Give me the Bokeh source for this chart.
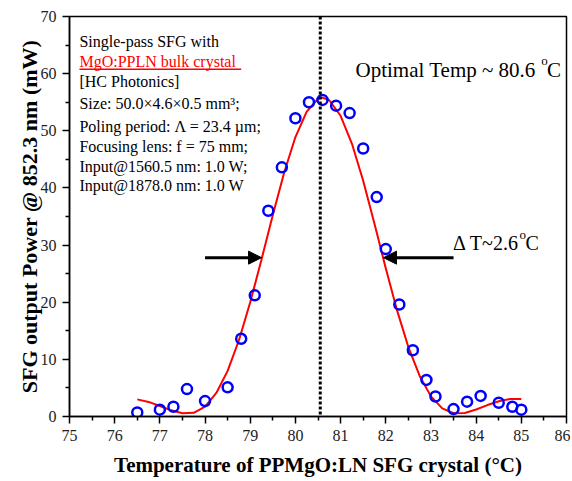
from bokeh.plotting import figure
from bokeh.models import Span, Label, Arrow, NormalHead, FixedTicker
from bokeh.embed import file_html
from bokeh.resources import INLINE

# ---- data ----
meas_T = [76.5, 77.0, 77.3, 77.6, 78.0, 78.5, 78.8, 79.1, 79.4, 79.7, 80.0, 80.3, 80.6, 80.9,
          81.2, 81.5, 81.8, 82.0, 82.3, 82.6, 82.9, 83.1, 83.5, 83.8, 84.1, 84.5, 84.8, 85.0]
meas_P = [0.7, 1.2, 1.7, 4.8, 2.7, 5.1, 13.6, 21.2, 36.0, 43.6, 52.2, 55.0, 55.4, 54.4,
          53.1, 46.9, 38.4, 29.3, 19.6, 11.6, 6.4, 3.5, 1.3, 2.6, 3.6, 2.4, 1.7, 1.2]

fit_T = [76.5, 76.75, 77.0, 77.25, 77.5, 77.75, 78.0, 78.25, 78.5, 78.75, 79.0, 79.25, 79.5,
         79.75, 80.0, 80.25, 80.5, 80.6, 80.75, 81.0, 81.25, 81.5, 81.75, 82.0, 82.25, 82.5,
         82.75, 83.0, 83.25, 83.5, 83.75, 84.0, 84.25, 84.5, 84.75, 85.0]
fit_P = [3.00, 2.55, 1.84, 1.08, 0.56, 0.65, 1.73, 4.12, 7.98, 13.34, 19.98, 27.49, 35.28,
         42.65, 48.90, 53.36, 55.60, 55.80, 55.35, 52.63, 47.77, 41.25, 33.73, 25.94, 18.57,
         12.16, 7.09, 3.52, 1.42, 0.57, 0.62, 1.22, 2.00, 2.67, 3.05, 3.08]

optimal_T = 80.55
fwhm_T = [79.25, 81.95]
half_max = 27.8
arrow_tail_T = [78.0, 83.5]

x_ticks = list(range(75, 87))
y_ticks = list(range(0, 71, 10))

info_lines = ["Single-pass SFG with", "MgO:PPLN bulk crystal", "[HC Photonics]",
              "Size: 50.0\u00d74.6\u00d70.5 mm\u00b3;", "Poling period: \u039b = 23.4 \u00b5m;",
              "Focusing lens: f = 75 mm;", "Input@1560.5 nm: 1.0 W;", "Input@1878.0 nm: 1.0 W"]

FONT = "Liberation Serif"

p = figure(width=570, height=479, x_range=(75, 86), y_range=(0, 70),
           output_backend="svg", toolbar_location=None,
           min_border_left=69, min_border_right=4, min_border_top=16, min_border_bottom=62)
p.xgrid.visible = False
p.ygrid.visible = False
p.outline_line_color = "black"
p.outline_line_width = 1.5
p.background_fill_color = "white"
p.border_fill_color = "white"

for ax in (p.xaxis[0], p.yaxis[0]):
    ax.axis_line_width = 1.5
    ax.major_tick_line_width = 1.5
    ax.minor_tick_line_width = 1.5
    ax.major_tick_out = 7
    ax.major_tick_in = 0
    ax.minor_tick_out = 4
    ax.minor_tick_in = 0
    ax.major_label_text_font = FONT
    ax.major_label_text_font_size = "16px"
    ax.major_label_text_color = "#222222"
    ax.axis_label_text_font = FONT
    ax.axis_label_text_font_style = "bold"
    ax.axis_label_text_color = "black"

p.xaxis.axis_label_text_font_size = "21px"
p.yaxis.axis_label_text_font_size = "22px"
p.xaxis.ticker = FixedTicker(ticks=x_ticks, minor_ticks=[t + 0.5 for t in x_ticks[:-1]])
p.yaxis.ticker = FixedTicker(ticks=y_ticks, minor_ticks=[t + 5 for t in y_ticks[:-1]])
p.xaxis.axis_label = "Temperature of PPMgO:LN SFG crystal (\u00b0C)"
p.yaxis.axis_label = "SFG output Power @ 852.3 nm (mW)"
p.xaxis.axis_label_standoff = 9
p.yaxis.axis_label_standoff = -4
p.xaxis.major_label_standoff = 6
p.yaxis.major_label_standoff = 6

# dotted optimal temperature line
p.add_layout(Span(location=optimal_T, dimension="height", line_color="black",
                  line_width=3, line_dash="3 2"))

# fit curve
p.line(fit_T, fit_P, line_color="red", line_width=2)

# measured points
p.scatter(meas_T, meas_P, marker="circle", size=10, fill_color=None,
          line_color="blue", line_width=2.5)

# FWHM arrows
for tail, tip in zip(arrow_tail_T, fwhm_T):
    p.add_layout(Arrow(end=NormalHead(size=13, fill_color="black", line_color="black"),
                       x_start=tail, y_start=half_max, x_end=tip, y_end=half_max,
                       line_width=3, line_color="black"))

# info text block
info_y = [65.62, 62.13, 58.66, 54.80, 50.79, 47.29, 43.80, 40.49]
for i, (txt, yy) in enumerate(zip(info_lines, info_y)):
    p.add_layout(Label(x=75.22, y=yy, text=txt, text_font=FONT, text_font_size="16px",
                       text_baseline="middle", text_align="left",
                       text_color="red" if i == 1 else "black"))
# underline of red line
p.line([75.22, 78.8], [60.75, 60.75], line_color="red", line_width=1.5)

# Optimal temp text
p.add_layout(Label(x=81.33, y=60.6, text="Optimal Temp ~ 80.6", text_font=FONT,
                   text_font_size="21px", text_baseline="alphabetic", text_color="black"))
p.add_layout(Label(x=85.44, y=62.3, text="o", text_font=FONT,
                   text_font_size="13px", text_baseline="alphabetic", text_color="black"))
p.add_layout(Label(x=85.57, y=60.6, text="C", text_font=FONT,
                   text_font_size="21px", text_baseline="alphabetic", text_color="black"))

# Delta T text
p.add_layout(Label(x=83.49, y=30.4, text="\u0394 T~2.6", text_font=FONT,
                   text_font_size="20px", text_baseline="alphabetic", text_color="black"))
p.add_layout(Label(x=84.96, y=31.9, text="o", text_font=FONT,
                   text_font_size="13px", text_baseline="alphabetic", text_color="black"))
p.add_layout(Label(x=85.09, y=30.4, text="C", text_font=FONT,
                   text_font_size="20px", text_baseline="alphabetic", text_color="black"))

open("out.html", "w").write(file_html(p, INLINE))
